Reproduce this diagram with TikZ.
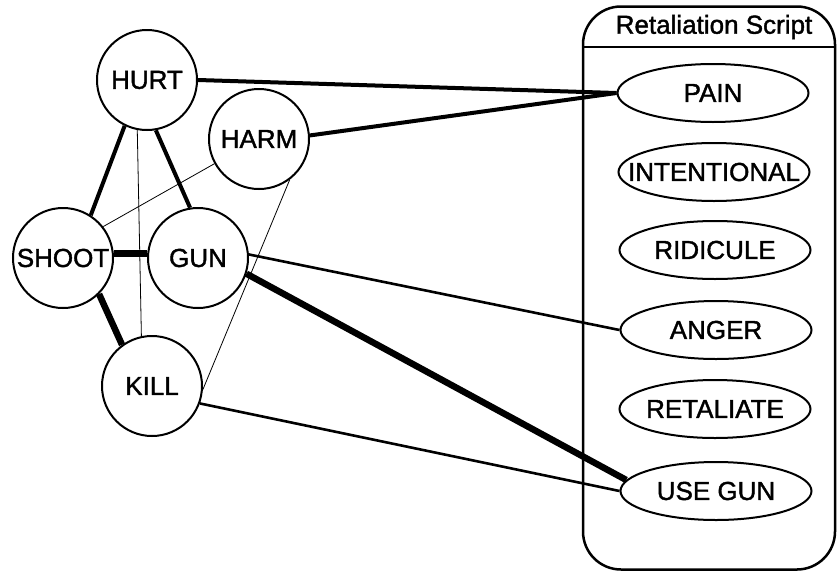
\documentclass[tikz,border=0pt]{standalone}
\usepackage{fontspec}
\setmainfont{Liberation Sans}
\newfontfamily\lblfont[FakeBold=1.5]{Liberation Sans}
\usetikzlibrary{shapes.geometric}
\newcommand\zwbox[1]{\makebox[0pt][c]{#1}}
\begin{document}
\begin{tikzpicture}[x=1pt,y=-1pt,
  lbl/.style={font=\lblfont\fontsize{26}{30}\selectfont\addfontfeature{FakeBold=1.5}},
  concept/.style={lbl,circle,draw,line width=2pt,minimum size=100pt,inner sep=0pt},
  scriptitem/.style={lbl,ellipse,draw,fill=white,line width=2pt,minimum width=191pt,minimum height=58pt,inner sep=0pt},
  thinlink/.style={line width=0.8pt},
  medlink/.style={line width=2.6pt},
  thicklink/.style={line width=4pt},
  heavylink/.style={line width=6.5pt}]
\useasboundingbox (0,0) rectangle (837,573);
% script box
\node[draw,line width=2.5pt,rounded corners=38pt,minimum width=252pt,minimum height=563pt,inner sep=0pt] (script) at (709,288) {};
\coordinate (hl) at (583,47);
\coordinate (hr) at (835,47);
\draw[line width=2pt] (hl) -- (hr);
\node[lbl] (title) at (714,27) {Retaliation Script};
% concept nodes
\node[concept] (hurt) at (147,80) {HURT};
\node[concept] (harm) at (259,139) {HARM};
\node[concept] (shoot) at (63,258) {\zwbox{SHOOT}};
\node[concept] (gun) at (198,258) {GUN};
\node[concept] (kill) at (152,386) {KILL};
% script items
\node[scriptitem] (pain) at (713,93) {\zwbox{PAIN}};
\node[scriptitem] (intent) at (714,172) {\zwbox{INTENTIONAL}};
\node[scriptitem] (ridicule) at (715,250) {\zwbox{RIDICULE}};
\node[scriptitem] (anger) at (716,330) {\zwbox{ANGER}};
\node[scriptitem] (retaliate) at (715,409) {\zwbox{RETALIATE}};
\node[scriptitem] (usegun) at (716,491) {\zwbox{USE GUN}};
% links
\draw[thicklink] (hurt.0) -- (pain.west);
\draw[thicklink] (harm.4) -- (pain.west);
\draw[thicklink] (hurt.-116) -- (shoot.57);
\draw[thicklink] (hurt.-80) -- (gun.99);
\draw[thinlink] (hurt.-101) -- (kill.102);
\draw[thinlink] (harm.209) -- (shoot.38);
\draw[thinlink] (harm.-53) -- (kill.-4);
\draw[heavylink] (shoot.5) -- (gun.175);
\draw[heavylink] (shoot.-45) -- (kill.126);
\draw[medlink] (gun.4) -- (anger.west);
\draw[heavylink] (gun.-18) -- (usegun.173);
\draw[medlink] (kill.-20) -- (usegun.west);
\end{tikzpicture}
\end{document}
